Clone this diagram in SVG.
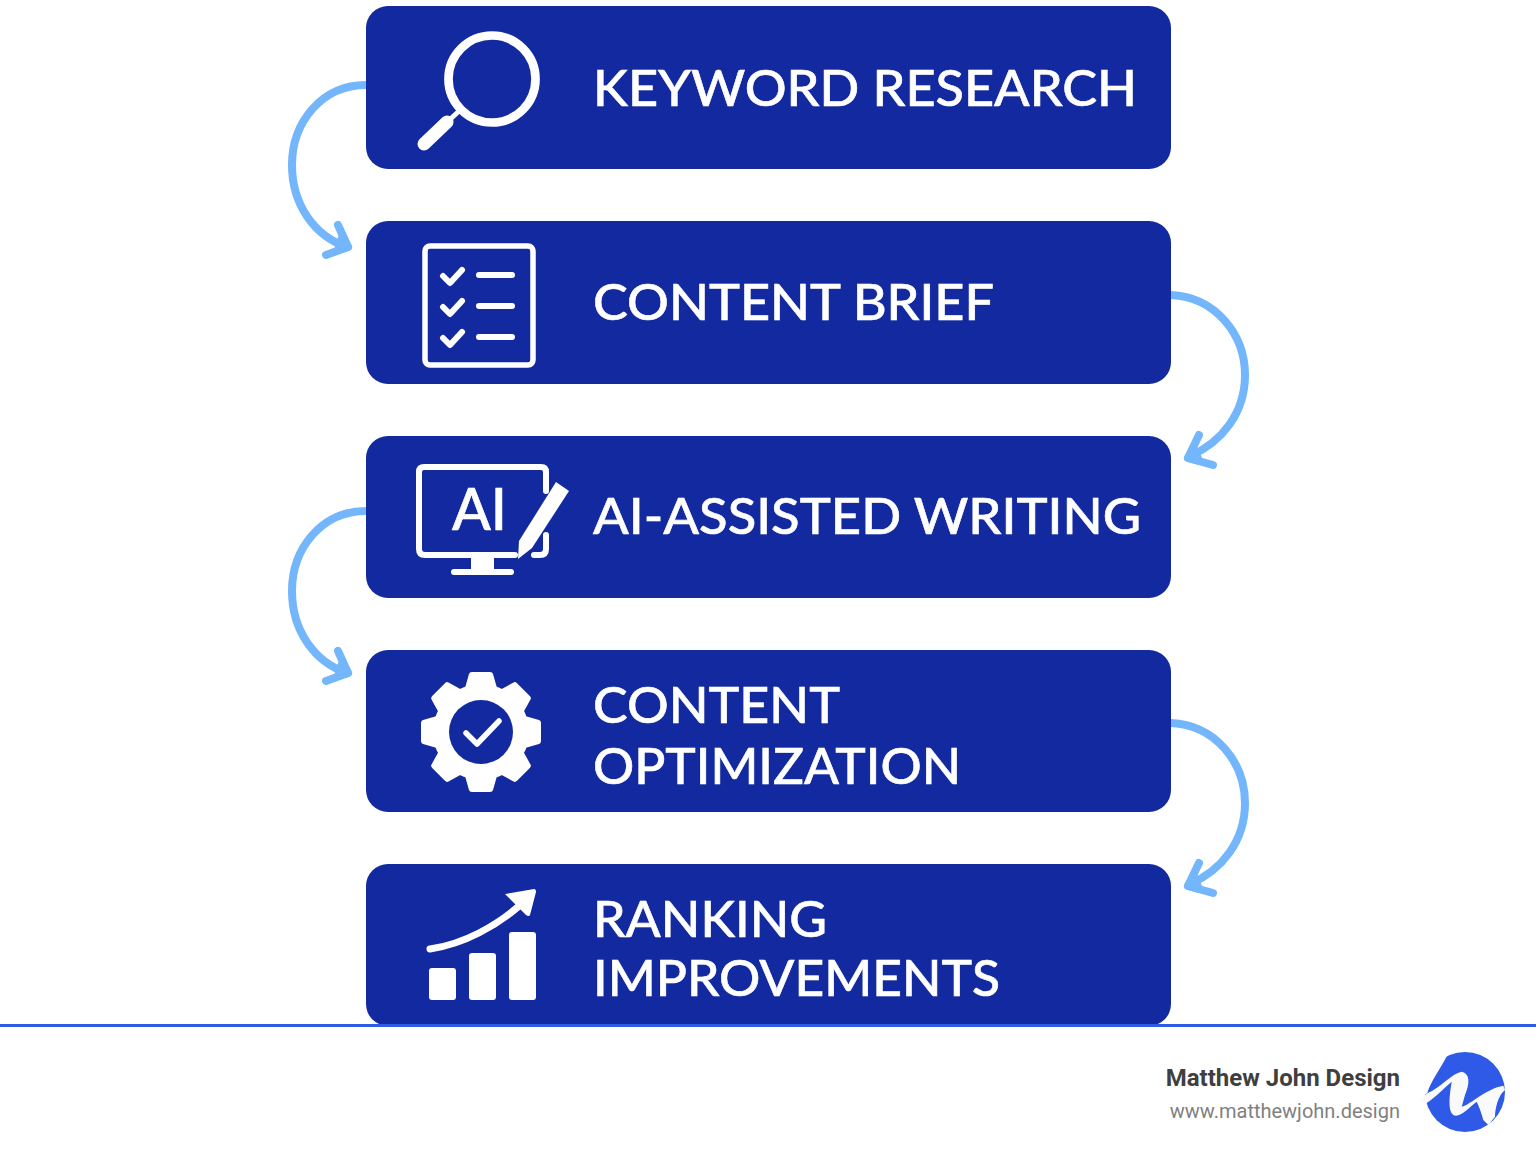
<svg xmlns="http://www.w3.org/2000/svg" width="1536" height="1154" viewBox="0 0 1536 1154">
<style>
.box{fill:#12299f}
.t{font-family:"Lato","Noto Sans",sans-serif;font-size:51px;font-weight:500;fill:#fff;stroke:#fff;stroke-width:.6}
.w{fill:#fff}
.ln{fill:none;stroke:#fff;stroke-linecap:round;stroke-linejoin:round}
.c{fill:none;stroke:#74b6fb;stroke-width:8;stroke-linecap:round;stroke-linejoin:round}
.h{fill:#74b6fb;stroke:#74b6fb;stroke-width:8;stroke-linecap:round;stroke-linejoin:round}
</style>
<defs>
<path id="tooth" class="w" d="M-16,-44 L-12,-58 Q-11.500,-60 -9,-60 L9,-60 Q11.500,-60 12,-58 L16,-44 Z"/>
<g id="arrowL">
<path class="c" d="M0,0 C-44,0 -74,37 -74,80 C-74,119 -52,151 -19,162"/>
<path class="c" d="M-28,140 L-18,162 L-40,170"/>
<path class="h" d="M-24,153 L-18,162 L-28,165 Z"/>
</g>
<g id="arrowR">
<path class="c" d="M0,0 C44,2 74,39 74,80 C74,118 51,147 19,161"/>
<path class="c" d="M28,140 L17,163 L42,170"/>
<path class="h" d="M23,154 L17,163 L28,166 Z"/>
</g>
</defs>
<rect width="1536" height="1154" fill="#fff"/>
<g id="connectors">
<use href="#arrowL" x="366" y="85"/>
<use href="#arrowR" x="1171" y="295"/>
<use href="#arrowL" x="366" y="511"/>
<use href="#arrowR" x="1171" y="723"/>
</g>
<g id="node-keyword">
<rect class="box" x="366" y="6" width="805" height="163" rx="22"/>
<circle cx="492" cy="79" r="43.500" fill="none" stroke="#fff" stroke-width="8.700"/>
<path class="ln" d="M458,112 L445,124" stroke-width="5"/>
<path class="ln" d="M447,122 L424,144" stroke-width="13"/>
<text class="t" x="593" y="106" textLength="544" lengthAdjust="spacingAndGlyphs">KEYWORD RESEARCH</text>
</g>
<g id="node-brief">
<rect class="box" x="366" y="221" width="805" height="163" rx="22"/>
<rect x="425" y="246" width="108" height="119" rx="5" fill="none" stroke="#fff" stroke-width="5.500"/>
<path class="ln" stroke-width="6" d="M443,276 L450,283 L462,270 M443,307 L450,314 L462,301 M443,338 L450,345 L462,332 M479,275 H512 M479,306 H512 M479,337 H512"/>
<text class="t" x="593" y="320" textLength="401" lengthAdjust="spacingAndGlyphs">CONTENT BRIEF</text>
</g>
<g id="node-writing">
<rect class="box" x="366" y="436" width="805" height="162" rx="22"/>
<path class="ln" stroke-width="6" d="M546,491 V472 Q546,467 541,467 H424 Q419,467 419,472 V549 Q419,555 425,555 H515 M546,535 V549 Q546,555 540,555 H534"/>
<path class="w" d="M471,556 H494 V569 H511 Q514,569 514,572 Q514,575 511,575 H454 Q451,575 451,572 Q451,569 454,569 H471 Z"/>
<path class="w" d="M556,482 L569,491 L532,548 L518,559 L519,541 Z"/>
<text x="452" y="530" font-family="Lato,sans-serif" font-size="57" font-weight="500" fill="#fff" stroke="#fff" stroke-width=".6">AI</text>
<text class="t" x="593" y="534" textLength="548" lengthAdjust="spacingAndGlyphs">AI-ASSISTED WRITING</text>
</g>
<g id="node-optimization">
<rect class="box" x="366" y="650" width="805" height="162" rx="22"/>
<g transform="translate(481 732)">
<circle class="w" r="48"/>
<use href="#tooth"/><use href="#tooth" transform="rotate(45)"/><use href="#tooth" transform="rotate(90)"/><use href="#tooth" transform="rotate(135)"/><use href="#tooth" transform="rotate(180)"/><use href="#tooth" transform="rotate(225)"/><use href="#tooth" transform="rotate(270)"/><use href="#tooth" transform="rotate(315)"/>
<circle r="32" fill="#12299f"/>
<path class="ln" stroke-width="5.500" d="M-15,1 L-4,12 L18,-11"/>
</g>
<text class="t" x="593" y="723" textLength="247" lengthAdjust="spacingAndGlyphs">CONTENT</text>
<text class="t" x="593" y="784" textLength="368" lengthAdjust="spacingAndGlyphs">OPTIMIZATION</text>
</g>
<g id="node-ranking">
<rect class="box" x="366" y="864" width="805" height="162" rx="22"/>
<path class="ln" stroke-width="7" d="M430,949 C465,944 497,925 519,906"/>
<path class="w" d="M505,894 L534,889 Q536,889 536,892 L530,915 Q529,917 526,915 Z"/>
<rect class="w" x="429" y="968" width="27" height="32" rx="3"/>
<rect class="w" x="469" y="953" width="27" height="47" rx="3"/>
<rect class="w" x="509" y="932" width="27" height="68" rx="3"/>
<text class="t" x="593" y="937" textLength="234" lengthAdjust="spacingAndGlyphs">RANKING</text>
<text class="t" x="593" y="996" textLength="407" lengthAdjust="spacingAndGlyphs">IMPROVEMENTS</text>
</g>
<rect id="rule" x="0" y="1024" width="1536" height="3" fill="#2f5ae8"/>
<g id="footer">
<text x="1400" y="1086" text-anchor="end" font-family="Roboto,sans-serif" font-size="24" font-weight="700" fill="#3f3f3f">Matthew John Design</text>
<text x="1400" y="1118" text-anchor="end" font-family="Roboto,sans-serif" font-size="20" fill="#808080">www.matthewjohn.design</text>
<circle cx="1465" cy="1092" r="40" fill="#2f5ae8"/>
<path fill="#fafafa" d="M1427.300,1093.300 C1440,1088.300 1451.700,1073.300 1461.700,1071.700 C1470,1073.300 1470,1083.300 1465,1095 L1461.700,1106.700 C1470,1105 1486.700,1088.300 1503.300,1085.700 L1505,1090 C1498.300,1095 1495,1108.300 1495,1116.700 L1488.300,1125 L1483.300,1120 C1481.700,1113.300 1478.300,1105 1476.700,1101.700 C1470,1106.700 1461.700,1115.700 1456,1115.700 C1448.300,1115 1448.300,1101.700 1451.700,1081.700 C1443.300,1088.300 1433.300,1100 1424,1104.300 L1420,1100 Z"/>
<path fill="#fff" d="M1447.300,1055 C1443,1065 1430,1082 1427.300,1093.300 L1420,1097 L1420,1050 L1447,1050 Z"/>
</g>
</svg>
